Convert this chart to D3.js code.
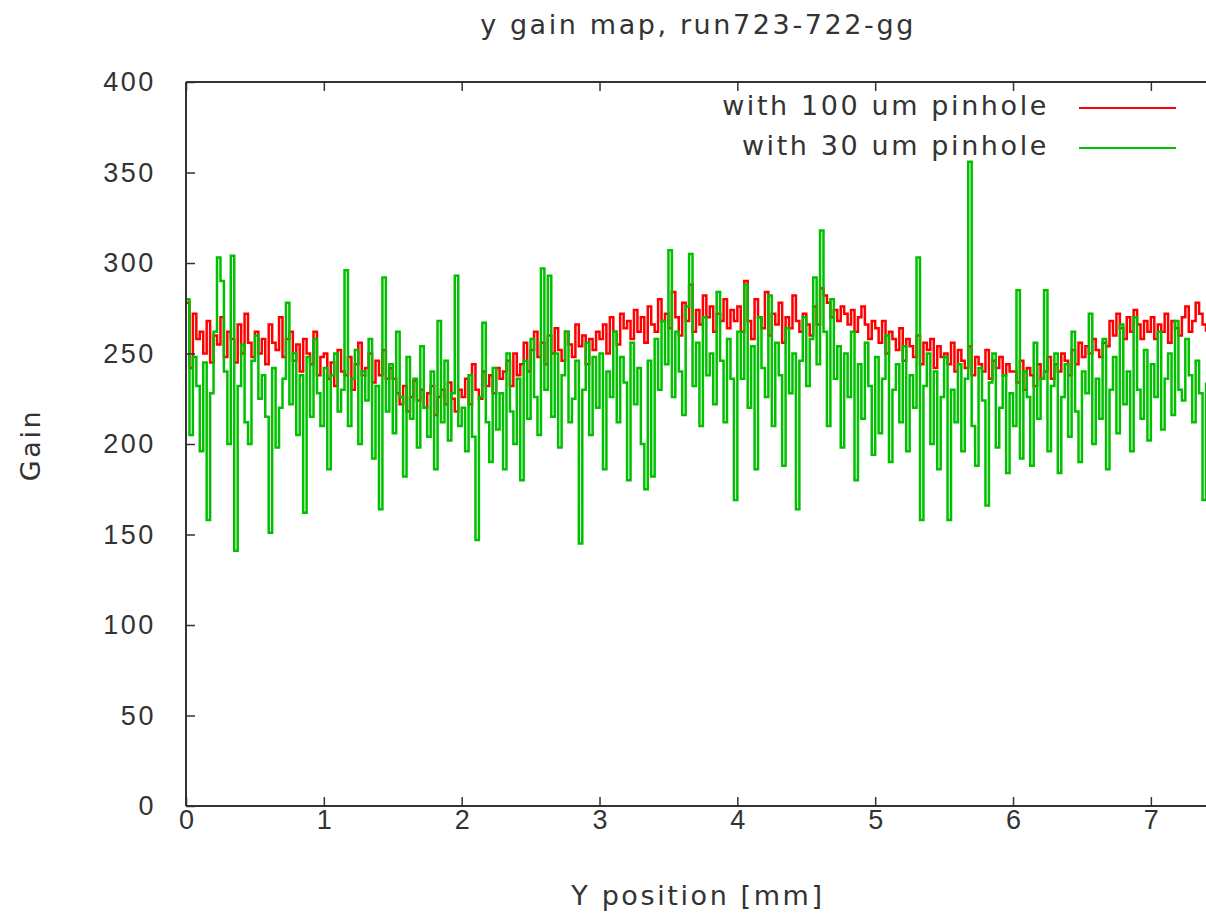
<!DOCTYPE html>
<html>
<head>
<meta charset="utf-8">
<script src="https://cdn.jsdelivr.net/npm/d3@7"></script>
<style>
  body { margin: 0; background: #fff; }
  svg { display: block; font-family: "DejaVu Sans", sans-serif; }
  text { letter-spacing: 2.6px; }
  .axis path { display: none; }
  .axis line { stroke: #333; stroke-width: 1.5px; }
  .axis text { font-size: 27px; fill: #333; }
  .xaxis text { letter-spacing: 0; }
</style>
</head>
<body>
<svg width="1206" height="915"></svg>
<script>
var WIDTH = 1206;
var HEIGHT = 915;

// bin width of the gain map (mm)
var binWidth = 0.025;

var seriesNames = ["with 100 um pinhole", "with 30 um pinhole"];
var seriesColors = ["#ff0000", "#00c000"];
var xTicks = [0, 1, 2, 3, 4, 5, 6, 7];
var yTicks = [0, 50, 100, 150, 200, 250, 300, 350, 400];

// gain per bin, 100 um pinhole
var gain100 = [
  278, 242, 272, 258, 262, 250, 268, 245, 260, 255,
  270, 248, 262, 258, 245, 266, 250, 272, 256, 248,
  262, 250, 258, 244, 266, 256, 252, 270, 248, 258,
  262, 246, 255, 240, 258, 250, 244, 262, 238, 248,
  250, 236, 245, 232, 252, 240, 238, 248, 230, 244,
  256, 238, 242, 250, 234, 246, 238, 252, 236, 242,
  236, 228, 222, 232, 218, 226, 235, 224, 230, 220,
  228, 232, 216, 226, 230, 222, 234, 225, 218, 230,
  226, 236, 222, 244, 230, 225, 240, 232, 238, 228,
  242, 236, 240, 246, 232, 250, 238, 244, 256, 240,
  252, 262, 248, 256, 244, 260, 250, 264, 252, 246,
  262, 255, 248, 266, 254, 260, 244, 258, 252, 262,
  258, 266, 250, 270, 262, 255, 272, 264, 268, 258,
  274, 262, 270, 256, 276, 266, 262, 280, 268, 272,
  264, 284, 270, 260, 278, 268, 288, 262, 274, 266,
  282, 270, 276, 262, 272, 268, 280, 264, 274, 268,
  276, 262, 290, 268, 258, 280, 270, 264, 284, 260,
  272, 266, 278, 256, 270, 264, 282, 268, 262, 272,
  266, 260, 276, 266, 286, 282, 278, 270, 274, 268,
  276, 272, 266, 274, 262, 270, 276, 266, 258, 268,
  264, 256, 268, 250, 262, 258, 252, 264, 246, 258,
  254, 248, 260, 244, 256, 252, 258, 242, 254, 248,
  250, 244, 256, 240, 252, 246, 242, 254, 238, 248,
  244, 240, 252, 236, 246, 242, 248, 238, 244, 240,
  240, 234, 246, 230, 242, 238, 232, 244, 236, 240,
  248, 236, 244, 240, 250, 246, 238, 252, 244, 256,
  248, 254, 250, 258, 252, 248, 256, 254, 268, 260,
  272, 264, 258, 270, 262, 274, 266, 258, 268, 262,
  270, 258, 266, 262, 272, 256, 268, 264, 260, 270,
  276, 262, 268, 278, 272, 266, 262
];

// gain per bin, 30 um pinhole
var gain30 = [
  280, 205, 248, 232, 196, 245, 158, 228, 262, 303,
  290, 240, 200, 304, 141, 232, 255, 212, 200, 246,
  260, 225, 238, 215, 151, 242, 198, 220, 236, 278,
  222, 250, 205, 238, 162, 248, 215, 258, 228, 210,
  242, 186, 238, 250, 218, 230, 296, 210, 236, 252,
  200, 240, 224, 258, 192, 232, 164, 292, 218, 244,
  206, 262, 226, 182, 248, 214, 236, 198, 254, 220,
  204, 240, 186, 268, 212, 246, 202, 228, 293, 210,
  220, 196, 238, 204, 147, 226, 267, 212, 190, 242,
  208, 228, 186, 250, 218, 200, 236, 180, 246, 214,
  258, 226, 205, 297, 230, 293, 215, 250, 198, 238,
  262, 212, 225, 246, 145, 230, 256, 205, 248, 220,
  250, 186, 240, 226, 262, 212, 248, 234, 180, 256,
  222, 242, 200, 175, 246, 182, 258, 230, 268, 244,
  307, 226, 262, 240, 216, 276, 305, 232, 256, 210,
  270, 238, 250, 222, 284, 246, 212, 258, 236, 169,
  262, 236, 288, 220, 254, 186, 270, 242, 226, 282,
  210, 256, 238, 188, 264, 228, 250, 164, 246, 270,
  232, 258, 292, 244, 318, 262, 210, 280, 236, 254,
  198, 250, 226, 262, 180, 244, 214, 256, 232, 194,
  248, 206, 236, 260, 190, 230, 244, 212, 254, 196,
  238, 220, 303, 158, 232, 250, 200, 240, 186, 226,
  248, 158, 230, 212, 244, 196, 236, 356, 210, 188,
  242, 224, 166, 234, 250, 198, 220, 238, 184, 228,
  210, 285, 192, 240, 226, 188, 256, 214, 236, 285,
  196, 232, 250, 184, 226, 244, 204, 262, 218, 190,
  240, 228, 272, 200, 236, 214, 258, 186, 230, 248,
  206, 266, 222, 240, 196, 270, 230, 214, 252, 202,
  244, 226, 262, 208, 236, 250, 216, 268, 230, 224,
  258, 238, 212, 246, 228, 169, 234
];

var margin = { left: 186, top: 82, bottom: 806, right: 1206 };

var x = d3.scaleLinear().domain([0, 7.4]).range([margin.left, margin.right]);
var y = d3.scaleLinear().domain([0, 400]).range([margin.bottom, margin.top]);

var svg = d3.select("svg").attr("width", WIDTH).attr("height", HEIGHT);

svg.append("clipPath").attr("id", "plotclip")
  .append("rect")
  .attr("x", margin.left).attr("y", margin.top)
  .attr("width", margin.right - margin.left).attr("height", margin.bottom - margin.top);

//step lines
var line = d3.line()
  .x(function (d, i) { return x(i * binWidth); })
  .y(function (d) { return y(d); })
  .curve(d3.curveStepAfter);

var plot = svg.append("g").attr("clip-path", "url(#plotclip)");
[gain100, gain30].forEach(function (vals, k) {
  plot.append("path")
    .datum(vals)
    .attr("d", line)
    .attr("fill", "none")
    .attr("stroke", seriesColors[k])
    .attr("stroke-width", 2.5);
});

//axes with inward ticks
svg.append("g").attr("class", "axis xaxis")
  .attr("transform", "translate(0," + margin.bottom + ")")
  .call(d3.axisBottom(x).tickValues(xTicks).tickFormat(d3.format("d")).tickSize(-9).tickPadding(4));

svg.append("g").attr("class", "axis")
  .attr("transform", "translate(0," + margin.top + ")")
  .call(d3.axisTop(x).tickValues(xTicks).tickFormat("").tickSize(-9));

svg.append("g").attr("class", "axis")
  .attr("transform", "translate(" + margin.left + ",0)")
  .call(d3.axisLeft(y).tickValues(yTicks).tickSize(-9).tickPadding(30));

//frame
var frame = svg.append("g").attr("stroke", "#333").attr("stroke-width", 2);
frame.append("line").attr("x1", margin.left).attr("x2", margin.left).attr("y1", margin.top).attr("y2", margin.bottom);
frame.append("line").attr("x1", margin.left).attr("x2", margin.right).attr("y1", margin.bottom).attr("y2", margin.bottom);
frame.append("line").attr("x1", margin.left).attr("x2", margin.right).attr("y1", margin.top).attr("y2", margin.top);

//legend
var legend = svg.append("g");
[0, 1].forEach(function (k) {
  var ly = 106 + k * 40;
  legend.append("text")
    .attr("x", 1049).attr("y", ly)
    .attr("dy", "0.35em")
    .attr("text-anchor", "end")
    .style("font-size", "27px").style("fill", "#333")
    .text(seriesNames[k]);
  legend.append("line")
    .attr("x1", 1079).attr("x2", 1176)
    .attr("y1", ly + 2).attr("y2", ly + 2)
    .attr("stroke", seriesColors[k]).attr("stroke-width", 2);
});

//titles
svg.append("text")
  .attr("x", 698).attr("y", 25).attr("dy", "0.35em")
  .attr("text-anchor", "middle")
  .style("font-size", "27px").style("fill", "#333")
  .text("y gain map, run723-722-gg");

svg.append("text")
  .attr("x", 698).attr("y", 896).attr("dy", "0.35em")
  .attr("text-anchor", "middle")
  .style("font-size", "27px").style("fill", "#333")
  .text("Y position [mm]");

svg.append("text")
  .attr("transform", "translate(31,445) rotate(-90)")
  .attr("dy", "0.35em")
  .attr("text-anchor", "middle")
  .style("font-size", "27px").style("fill", "#333")
  .text("Gain");
</script>
</body>
</html>
